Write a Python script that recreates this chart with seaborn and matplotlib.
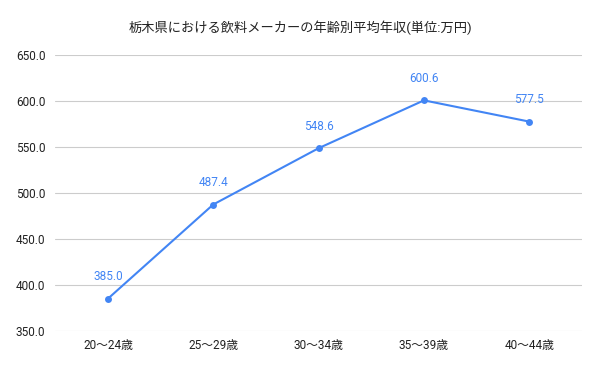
import pandas as pd
import matplotlib
matplotlib.use("Agg")
import matplotlib.pyplot as plt
import seaborn as sns

# data
ages = ['20〜24歳', '25〜29歳', '30〜34歳', '35〜39歳', '40〜44歳']
income = [385.0, 487.4, 548.6, 600.6, 577.5]
yticks = [350, 400, 450, 500, 550, 600, 650]

df = pd.DataFrame({'age': ages, 'income': income})

sns.set_theme(style='white')
plt.rcParams['font.family'] = ['Roboto', 'Noto Sans CJK JP', 'DejaVu Sans']

blue = '#4285F4'

fig = plt.figure(figsize=(6, 3.71), dpi=100)
ax = fig.add_axes([0.092, 0.108, 0.878, 0.744])

sns.lineplot(data=df, x='age', y='income', ax=ax, color=blue, linewidth=1.5,
             marker='o', markersize=5, markeredgewidth=0, sort=False)

# value labels
for i, v in enumerate(income):
    ax.annotate(f'{v:.1f}', (i, v), xytext=(0, 11), textcoords='offset points',
                ha='center', va='bottom', color=blue, fontsize=8.5)

ax.set_ylim(350, 650)
ax.set_yticks(yticks)
ax.set_yticklabels([f'{t:.1f}' for t in yticks])
ax.set_xlim(-0.5, len(ages) - 0.5)
ax.grid(axis='y', color='#cccccc', linewidth=0.8)
ax.set_axisbelow(True)
for s in ax.spines.values():
    s.set_visible(False)
ax.tick_params(axis='both', length=0, labelsize=8.5, colors='#222222')
ax.tick_params(axis='y', pad=7)
ax.tick_params(axis='x', pad=6)
ax.set_xlabel('')
ax.set_ylabel('')
fig.suptitle('栃木県における飲料メーカーの年齢別平均年収(単位:万円)', y=0.945,
             fontsize=9.5, color='#222222')

plt.savefig('out.png', dpi=100)
plt.close()
